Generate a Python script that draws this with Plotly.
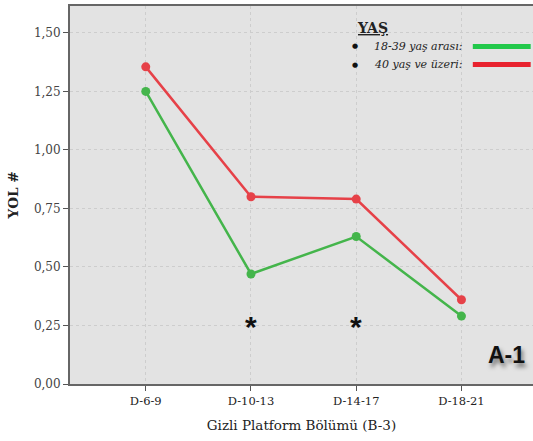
import plotly.graph_objects as go

# Data
categories = ["D-6-9", "D-10-13", "D-14-17", "D-18-21"]
group_18_39 = [1.25, 0.47, 0.63, 0.29]
group_40_plus = [1.355, 0.80, 0.79, 0.36]
significant = ["D-10-13", "D-14-17"]
y_ticks = [0, 0.25, 0.5, 0.75, 1.0, 1.25, 1.5]

GREEN = "#44b54b"
RED = "#e64148"
SERIF = "DejaVu Serif"
SANS = "Liberation Sans"

fig = go.Figure()
fig.add_trace(go.Scatter(
    x=categories, y=group_18_39, mode="lines+markers", name="18-39 yaş arası",
    line=dict(color=GREEN, width=2.5), marker=dict(color=GREEN, size=9),
))
fig.add_trace(go.Scatter(
    x=categories, y=group_40_plus, mode="lines+markers", name="40 yaş ve üzeri",
    line=dict(color=RED, width=2.5), marker=dict(color=RED, size=9),
))

annotations = []
# significance asterisks
for c in significant:
    annotations.append(dict(x=c, y=0.245, xref="x", yref="y", text="<b>*</b>",
                            showarrow=False, xanchor="center", yanchor="middle",
                            font=dict(family=SANS, size=30, color="#111")))

# panel label
annotations.append(dict(x=0.942, y=0.077, xref="paper", yref="paper", text="<b>A-1</b>",
                        showarrow=False, xanchor="center", yanchor="middle",
                        font=dict(family=SANS, size=23, color="#111",
                                  shadow="2px 4px 4px rgba(0,0,0,0.5)")))

# legend block
annotations.append(dict(x=0.654, y=0.942, xref="paper", yref="paper", text="<b><u>YAŞ</u></b>",
                        showarrow=False, xanchor="center", yanchor="middle",
                        font=dict(family=SERIF, size=14, color="#222")))
legend_items = [("18-39 yaş arası:", 0.893, "#22c84a"), ("40 yaş ve üzeri:", 0.845, "#e8222e")]
shapes = []
for label, yp, col in legend_items:
    annotations.append(dict(x=0.652, y=yp, xref="paper", yref="paper", text="<i>" + label + "</i>",
                            showarrow=False, xanchor="left", yanchor="middle",
                            font=dict(family=SERIF, size=11, color="#222")))
    annotations.append(dict(x=0.616, y=yp, xref="paper", yref="paper", text="●",
                            showarrow=False, xanchor="center", yanchor="middle",
                            font=dict(family="DejaVu Sans", size=7, color="#111")))
    shapes.append(dict(type="line", xref="paper", yref="paper", x0=0.87, x1=0.995, y0=yp, y1=yp,
                       line=dict(color=col, width=5)))

fig.update_layout(
    width=533, height=441,
    margin=dict(l=70, r=0, t=6, b=57),
    paper_bgcolor="white",
    plot_bgcolor="#e3e3e3",
    separators=",.",
    showlegend=False,
    annotations=annotations,
    shapes=shapes,
    xaxis=dict(
        range=[-0.72, 3.68],
        showline=True, linecolor="#666666", linewidth=2, mirror=True,
        ticks="outside", ticklen=5, tickcolor="#555",
        showgrid=True, gridcolor="#cdcdcd", griddash="dot", gridwidth=1,
        tickfont=dict(family=SERIF, size=11.5, color="#222"),
        title=dict(text="Gizli Platform Bölümü (B-3)", standoff=14,
                   font=dict(family=SERIF, size=13.5, color="#222")),
    ),
    yaxis=dict(
        range=[0, 1.615],
        tickvals=y_ticks, tickformat=".2f",
        showline=True, linecolor="#666666", linewidth=2,
        ticks="outside", ticklen=5, tickcolor="#555",
        showgrid=True, gridcolor="#cdcdcd", griddash="dot", gridwidth=1,
        zeroline=False,
        tickfont=dict(family=SERIF, size=12, color="#444"),
        title=dict(text="<b>YOL #</b>", standoff=12,
                   font=dict(family=SERIF, size=13.5, color="#222")),
    ),
)

fig.write_html("out.html")
